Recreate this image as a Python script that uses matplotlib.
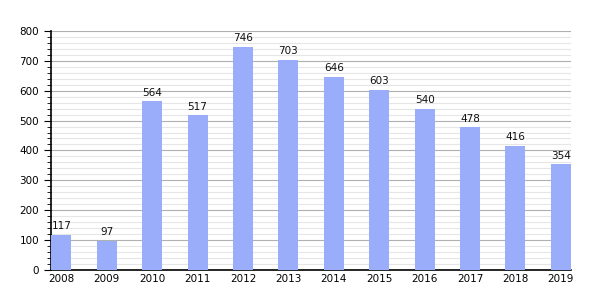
import matplotlib
matplotlib.use("Agg")
import matplotlib.pyplot as plt
from matplotlib.ticker import MultipleLocator

years = ["2008", "2009", "2010", "2011", "2012", "2013", "2014", "2015", "2016", "2017", "2018", "2019"]
values = [117, 97, 564, 517, 746, 703, 646, 603, 540, 478, 416, 354]

fig = plt.figure(figsize=(6, 3), dpi=100)
ax = fig.add_axes([0.085, 0.1, 0.867, 0.797])
x = list(range(len(years)))
ax.bar(x, values, width=0.44, color="#99adfa", zorder=3)
for xi, v in zip(x, values):
    ax.text(xi, v + 12, str(v), ha="center", va="bottom", fontsize=7.5, color="#111111")
ax.set_xlim(-0.23, len(years) - 1 + 0.23)
ax.set_ylim(0, 800)
ax.set_xticks(x)
ax.set_xticklabels(years, fontsize=7.5)
ax.yaxis.set_major_locator(MultipleLocator(100))
ax.yaxis.set_minor_locator(MultipleLocator(20))
ax.tick_params(axis="y", which="major", length=5, labelsize=7.5, direction="out")
ax.tick_params(axis="y", which="minor", length=3, direction="out")
ax.tick_params(axis="x", length=0, labelsize=7.5, pad=3)
ax.grid(axis="y", which="major", color="#b0b0b0", linewidth=0.8, zorder=0)
ax.grid(axis="y", which="minor", color="#e6e6e6", linewidth=0.8, zorder=0)
for s in ["top", "right"]:
    ax.spines[s].set_visible(False)
ax.spines["left"].set_linewidth(1.2)
ax.spines["bottom"].set_linewidth(1.2)
ax.set_axisbelow(True)
fig.savefig("out.png", dpi=100)
